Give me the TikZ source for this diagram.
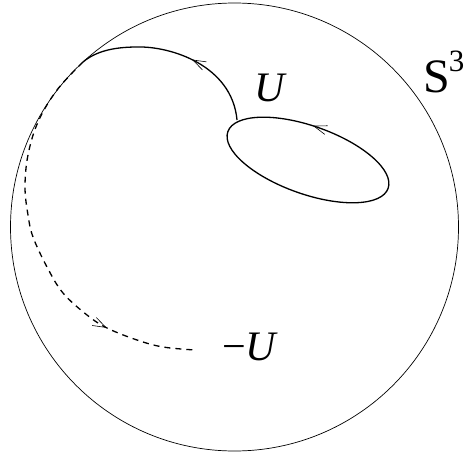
\documentclass[tikz,border=0pt]{standalone}
\usepackage{fontspec}
\setmainfont{Liberation Serif}
\usetikzlibrary{decorations.markings}
\tikzset{
  sphere/.style={line width=0.7pt},
  knot/.style={line width=1.3pt},
  barb/.style={line width=0.6pt, solid},
  lbl/.style={inner sep=0pt, font=\fontsize{42}{42}\selectfont\itshape},
  openarrow/.style={postaction={decorate, decoration={markings,
     mark=at position #1 with {\draw[barb] (-13pt,4.5pt) -- (0pt,0pt) -- (-13pt,-4.5pt);}}}}
}
\begin{document}
\begin{tikzpicture}[x=1pt,y=-1pt]
\useasboundingbox (0,0) rectangle (466,458);
\coordinate (C) at (234.5,227);
\draw[sphere] (C) circle [radius=224pt];
\coordinate (E) at (308,160);
\draw[knot, rotate around={-19.5:(E)}, openarrow=0.265] (E) ellipse [x radius=85pt, y radius=34pt];
\coordinate (A) at (237,120);
\coordinate (T) at (137,47);
\coordinate (B) at (83,62);
\draw[knot, openarrow=78pt] (A) .. controls (232,65) and (170,46) .. (T)
   .. controls (112,47) and (95,52) .. (B);
\coordinate (D) at (195,350);
\draw[knot, dash pattern=on 6pt off 5pt, openarrow=312pt] plot[smooth, tension=0.6] coordinates
  {(B) (57,90) (38,122) (28,155) (25,187) (28,215) (33,237) (47,267) (63,293) (87,315) (107,328) (137,340) (163,347) (D)};
\node[lbl] (u) at (270,88) {U};
\node[lbl, anchor=west] (mu) at (222,347) {\upshape\char"2212\itshape U};
\node[inner sep=0pt, anchor=base west, font=\fontsize{48}{48}\selectfont] (s3) at (423,92) {S\kern-1pt\raisebox{21pt}{\fontsize{31}{31}\selectfont 3}};
\end{tikzpicture}
\end{document}
